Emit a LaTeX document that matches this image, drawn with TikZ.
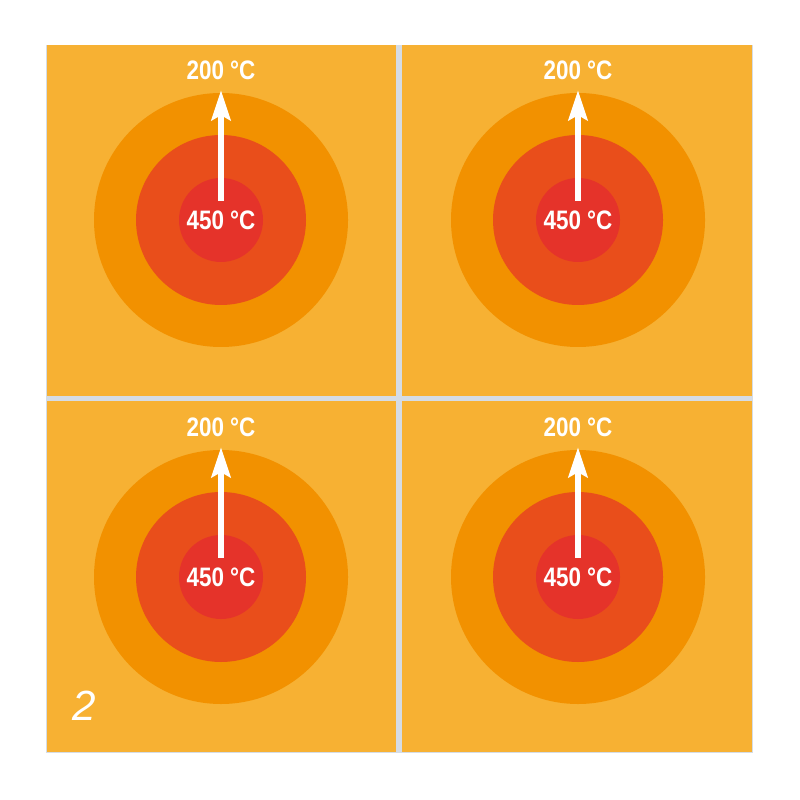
\documentclass[tikz,border=0pt]{standalone}
\usepackage{fontspec}
\setmainfont{Liberation Sans}
\usetikzlibrary{arrows.meta}
\definecolor{plate}{HTML}{F7B133}
\definecolor{ringout}{HTML}{F29100}
\definecolor{ringmid}{HTML}{E94E1B}
\definecolor{core}{HTML}{E5332A}
\definecolor{seam}{HTML}{D5DCE5}
\begin{document}
\begin{tikzpicture}[x=0.1mm, y=-0.1mm,
  tile/.style={fill=plate},
  temp/.style={text=white, inner sep=0pt, font=\fontsize{7.6}{8}\selectfont\bfseries\addfontfeature{FakeStretch=0.84}},
  heat/.style={-{Stealth[length=3mm, width=1.9mm, inset=0.5mm]}, draw=white, line width=0.6mm}
]
\useasboundingbox (0,0) rectangle (800,800);
\fill[white] (0,0) rectangle (800,800);
\fill[seam] (46,45) rectangle (753,753);
% four plates, each with its heat rings
\foreach \xa/\ya/\xb/\yb/\cx/\cy/\n in {47/45/396/396/221/220/a, 402/45/752/396/578/220/b,
                                        47/401/396/752/221/577/c, 402/401/752/752/578/577/d} {
  \fill[tile] (\xa,\ya) rectangle (\xb,\yb);
  \fill[ringout] (\cx,\cy) circle[radius=127];
  \fill[ringmid] (\cx,\cy) circle[radius=85];
  \fill[core] (\cx,\cy) circle[radius=42];
  \node[temp] (low\n) at (\cx,\cy) {450 °C};
  \node[temp] (high\n) at (\cx,\cy-150) {200 °C};
  \draw[heat] ([yshift=0.9mm]low\n.north) -- ([yshift=-1mm]high\n.south);
}
\node[text=white, inner sep=0pt, font=\fontsize{12}{14}\selectfont\itshape] (panel) at (84,706) {2};
\end{tikzpicture}
\end{document}
